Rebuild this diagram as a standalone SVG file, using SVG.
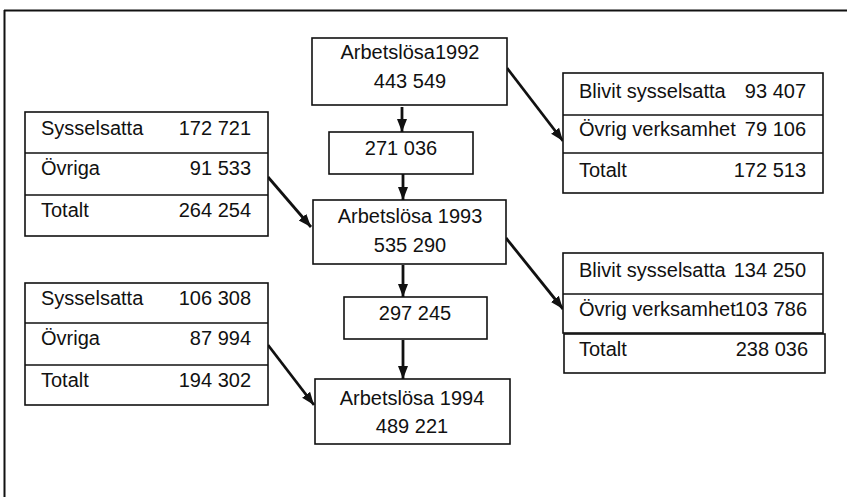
<svg xmlns="http://www.w3.org/2000/svg" width="847" height="497" viewBox="0 0 847 497">
<style>
.box{fill:#fff;stroke:#111;stroke-width:1.6}
.sep{stroke:#111;stroke-width:1.6}
.t{font-family:"Liberation Sans",Arial,sans-serif;font-size:20px;fill:#111}
.c{text-anchor:middle}
.r{text-anchor:end}
.arr{stroke:#111;stroke-width:2.8;fill:none;marker-end:url(#ah)}
</style>
<defs>
<marker id="ah" markerUnits="userSpaceOnUse" markerWidth="14" markerHeight="12" viewBox="0 0 14 12" refX="13" refY="6" orient="auto">
<path d="M0,1 L13,6 L0,11 Z" fill="#111"/>
</marker>
</defs>
<rect width="847" height="497" fill="#fff"/>
<g id="frame">
<line x1="4" y1="10.5" x2="847" y2="10.5" stroke="#111" stroke-width="2"/>
<line x1="4.5" y1="10" x2="4.5" y2="497" stroke="#111" stroke-width="2"/>
</g>
<g id="connectors">
<line class="arr" x1="402" y1="107" x2="402" y2="132"/>
<line class="arr" x1="403" y1="174" x2="403" y2="200"/>
<line class="arr" x1="403" y1="265" x2="403" y2="297"/>
<line class="arr" x1="403" y1="340" x2="403" y2="379"/>
<line class="arr" x1="507" y1="68" x2="563" y2="141"/>
<line class="arr" x1="506" y1="238" x2="563" y2="309"/>
<line class="arr" x1="268" y1="177" x2="311" y2="227"/>
<line class="arr" x1="268" y1="345" x2="314" y2="405"/>
</g>
<g id="n1992">
<rect class="box" x="312" y="38" width="195" height="67"/>
<text class="t c" x="410" y="59">Arbetslösa1992</text>
<text class="t c" x="410" y="88">443 549</text>
</g>
<g id="n271036">
<rect class="box" x="329" y="132" width="144" height="42"/>
<text class="t c" x="401" y="155">271 036</text>
</g>
<g id="n1993">
<rect class="box" x="313" y="200" width="193" height="64"/>
<text class="t c" x="410" y="223">Arbetslösa 1993</text>
<text class="t c" x="410" y="252">535 290</text>
</g>
<g id="n297245">
<rect class="box" x="344" y="297" width="143" height="42"/>
<text class="t c" x="415" y="320">297 245</text>
</g>
<g id="n1994">
<rect class="box" x="315" y="379" width="195" height="65"/>
<text class="t c" x="412" y="405">Arbetslösa 1994</text>
<text class="t c" x="412" y="433">489 221</text>
</g>
<g id="left1">
<rect class="box" x="25" y="112" width="243" height="124"/>
<line class="sep" x1="25" y1="153" x2="268" y2="153"/>
<line class="sep" x1="25" y1="195" x2="268" y2="195"/>
<text class="t" x="41" y="135">Sysselsatta</text>
<text class="t r" x="251" y="135">172 721</text>
<text class="t" x="41" y="175">Övriga</text>
<text class="t r" x="251" y="175">91 533</text>
<text class="t" x="41" y="217">Totalt</text>
<text class="t r" x="251" y="217">264 254</text>
</g>
<g id="left2">
<rect class="box" x="25" y="283" width="243" height="122"/>
<line class="sep" x1="25" y1="323" x2="268" y2="323"/>
<line class="sep" x1="25" y1="365" x2="268" y2="365"/>
<text class="t" x="41" y="305">Sysselsatta</text>
<text class="t r" x="251" y="305">106 308</text>
<text class="t" x="41" y="345">Övriga</text>
<text class="t r" x="251" y="345">87 994</text>
<text class="t" x="41" y="387">Totalt</text>
<text class="t r" x="251" y="387">194 302</text>
</g>
<g id="right1">
<rect class="box" x="563" y="73" width="260" height="120"/>
<line class="sep" x1="563" y1="115" x2="823" y2="115"/>
<line class="sep" x1="563" y1="153" x2="823" y2="153"/>
<text class="t" x="579" y="98">Blivit sysselsatta</text>
<text class="t r" x="806" y="98">93 407</text>
<text class="t" x="579" y="136">Övrig verksamhet</text>
<text class="t r" x="806" y="136">79 106</text>
<text class="t" x="579" y="177">Totalt</text>
<text class="t r" x="806" y="177">172 513</text>
</g>
<g id="right2">
<rect class="box" x="563" y="253" width="260" height="80"/>
<line class="sep" x1="563" y1="294" x2="823" y2="294"/>
<rect class="box" x="564" y="334" width="261" height="39"/>
<text class="t" x="579" y="277">Blivit sysselsatta</text>
<text class="t r" x="806" y="277">134 250</text>
<text class="t" x="579" y="316">Övrig verksamhet</text>
<text class="t r" x="807" y="316">103 786</text>
<text class="t" x="579" y="356">Totalt</text>
<text class="t r" x="808" y="356">238 036</text>
</g>
</svg>
